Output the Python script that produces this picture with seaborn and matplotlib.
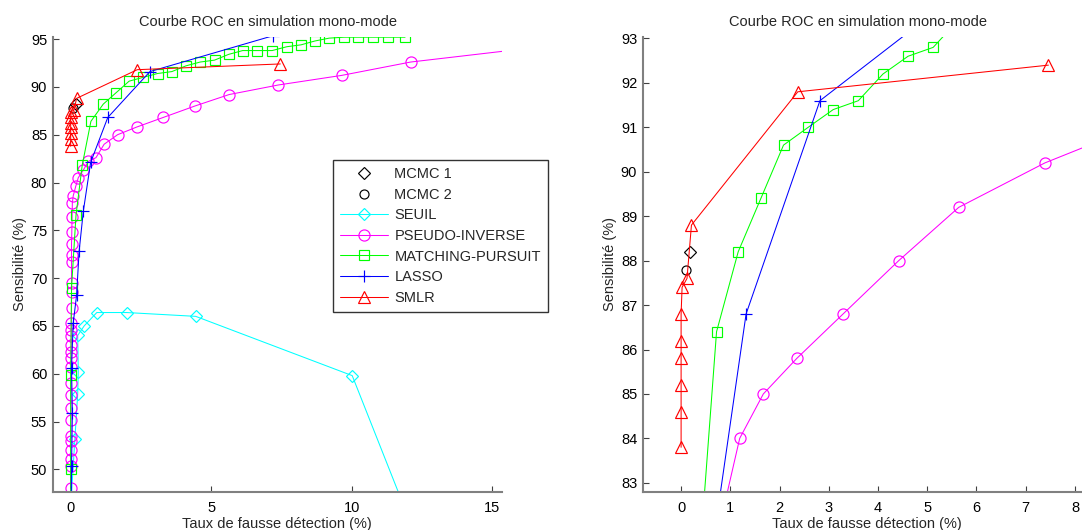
import matplotlib
matplotlib.use("Agg")
import matplotlib.pyplot as plt
import seaborn as sns
import numpy as np

sns.set_theme(style="white")
plt.rcParams['font.family'] = ['Liberation Sans', 'DejaVu Sans']

# ---------------- data ----------------
mcmc1_x = [0.18]
mcmc1_y = [88.2]
mcmc2_x = [0.10]
mcmc2_y = [87.8]

seuil_x = [0.02, 0.15, 0.25, 0.27, 0.25, 0.48, 0.93, 1.99, 4.45, 10.02, 12.0]
seuil_y = [47.0, 53.2, 57.9, 60.2, 64.0, 65.0, 66.4, 66.4, 66.0, 59.8, 45.1]

pinv_x = [0.0, 0.0, 0.0, 0.0, 0.0, 0.01, 0.01, 0.01, 0.01, 0.01, 0.02, 0.02, 0.02,
          0.02, 0.02, 0.02, 0.02, 0.03, 0.03, 0.03, 0.03, 0.03, 0.03, 0.04, 0.05,
          0.06, 0.09, 0.18, 0.27, 0.45, 0.63, 0.90, 1.19, 1.67, 2.35, 3.29, 4.42,
          5.64, 7.39, 9.64, 12.1, 15.6]
pinv_y = [48.0, 50.4, 51.1, 52.0, 53.0, 53.5, 55.2, 56.4, 57.8, 59.0, 60.7, 61.6, 62.3,
          63.0, 63.9, 64.6, 65.3, 66.9, 68.5, 69.5, 71.7, 72.4, 73.6, 74.8, 76.4,
          77.9, 78.6, 79.6, 80.5, 81.3, 82.2, 82.6, 84.0, 85.0, 85.8, 86.8, 88.0,
          89.2, 90.2, 91.2, 92.6, 93.8]

mp_x = [0.0, 0.0, 0.0, 0.03, 0.19, 0.41, 0.72, 1.16, 1.62, 2.08, 2.58, 3.09, 3.6,
        4.1, 4.61, 5.12, 5.62, 6.12, 6.64, 7.17, 7.69, 8.2, 8.69, 9.2, 9.73, 10.23,
        10.75, 11.3, 11.9]
mp_y = [47.0, 50.0, 59.9, 69.0, 76.6, 81.8, 86.4, 88.2, 89.4, 90.6, 91.0, 91.4, 91.6,
        92.2, 92.6, 92.8, 93.4, 93.8, 93.8, 93.8, 94.2, 94.4, 94.8, 95.1, 95.2, 95.2,
        95.2, 95.2, 95.2]

lasso_x = [0.02, 0.03, 0.06, 0.03, 0.09, 0.21, 0.30, 0.45, 0.71, 1.32, 2.82, 7.2]
lasso_y = [47.0, 50.3, 55.9, 60.6, 65.3, 68.2, 72.8, 77.0, 82.1, 86.8, 91.6, 95.35]

smlr_x = [0.0, 0.0, 0.0, 0.0, 0.0, 0.0, 0.02, 0.12, 0.21, 2.37, 7.46]
smlr_y = [83.8, 84.6, 85.2, 85.8, 86.2, 86.8, 87.4, 87.6, 88.8, 91.8, 92.4]

labels = ["MCMC 1", "MCMC 2", "SEUIL", "PSEUDO-INVERSE", "MATCHING-PURSUIT", "LASSO", "SMLR"]

W, H = 1082, 530
fig = plt.figure(figsize=(W / 100, H / 100), dpi=100)

def px_axes(x0, x1, ytop, ybot):
    return fig.add_axes([x0 / W, 1 - ybot / H, (x1 - x0) / W, (ybot - ytop) / H])

ax1 = px_axes(52.7, 501.7, 36.7, 491.7)
ax2 = px_axes(642.7, 1091.7, 36.7, 491.7)

series = [
    (mcmc1_x, mcmc1_y, 'D', 'black', 'none', 6),
    (mcmc2_x, mcmc2_y, 'o', 'black', 'none', 6.5),
    (seuil_x, seuil_y, 'D', '#00ffff', '-', 6),
    (pinv_x, pinv_y, 'o', '#ff00ff', '-', 8),
    (mp_x, mp_y, 's', '#00ff00', '-', 6.5),
    (lasso_x, lasso_y, '+', '#0000ff', '-', 8),
    (smlr_x, smlr_y, '^', '#ff0000', '-', 8),
]

for ax in (ax1, ax2):
    for (xs, ys, mk, col, ls, ms) in series:
        sns.lineplot(x=xs, y=ys, sort=False, estimator=None, ax=ax,
                     marker=mk, color=col, linestyle=ls if ls != 'none' else '',
                     linewidth=0.75, markersize=ms, markerfacecolor='none',
                     markeredgecolor=col, markeredgewidth=0.85, clip_on=True)
    for s in ['top', 'right']:
        ax.spines[s].set_visible(False)
    for s in ['left', 'bottom']:
        ax.spines[s].set_color('#808080')
        ax.spines[s].set_linewidth(1.5)
    ax.tick_params(axis='both', direction='in', length=4, width=0.8, color='#404040',
                   labelsize=10.5, labelcolor='black', left=True, bottom=True)
    ax.tick_params(axis='y', pad=4)
    ax.tick_params(axis='x', pad=7)
    ax.set_title("Courbe ROC en simulation mono-mode", fontsize=10.5, x=0.48, pad=8)
    ax.set_xlabel("Taux de fausse détection (%)", fontsize=10.5, labelpad=1)
    ax.set_ylabel("Sensibilité (%)", fontsize=10.5, labelpad=2.5)
    ax.grid(False)

ax1.set_xlim(-0.64, 15.34)
ax1.set_ylim(47.66, 95.25)
ax1.set_xticks([0, 5, 10, 15])
ax1.set_yticks(np.arange(50, 96, 5))

ax2.set_xlim(-0.78, 8.34)
ax2.set_ylim(82.8, 93.04)
ax2.set_xticks(np.arange(0, 9, 1))
ax2.set_yticks(np.arange(83, 94, 1))

handles = ax1.get_lines()[:7]
leg = ax1.legend(handles, labels, loc='upper left',
                 bbox_to_anchor=(333 / W, 1 - 160 / H), bbox_transform=fig.transFigure,
                 fontsize=10.5, frameon=True, fancybox=False, handlelength=3.3,
                 handletextpad=0.4, labelspacing=0.45, borderpad=0.5, borderaxespad=0)
leg.get_frame().set_edgecolor('black')
leg.get_frame().set_linewidth(1.0)

fig.savefig("out.png", dpi=100)
